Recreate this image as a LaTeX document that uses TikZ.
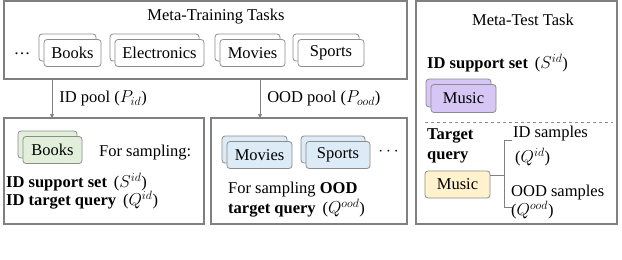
\documentclass[tikz,border=0pt]{standalone}
\usepackage{fontspec}
\setmainfont{Liberation Serif}
\usepackage{amsmath}
\usetikzlibrary{positioning, arrows.meta, shadows}

\definecolor{frame}{HTML}{808080}
\definecolor{cardline}{HTML}{8C8C8C}
\definecolor{bookgreen}{HTML}{E2EFDA}
\definecolor{poolblue}{HTML}{DDEBF7}
\definecolor{testpurple}{HTML}{D6C6F5}
\definecolor{queryyellow}{HTML}{FFF2CC}

\tikzset{
  panel/.style={draw=frame,line width=1.6pt,outer sep=0pt,anchor=north west},
  card/.style={draw=cardline,fill=white,rounded corners=3pt,line width=0.8pt,
               minimum height=27pt,inner xsep=4pt,font=\fontsize{16.5}{19}\selectfont},
  stack/.style={card,fill=#1,
                copy shadow={shadow xshift=-5pt,shadow yshift=5.5pt,
                             draw=cardline,fill=#1,line width=0.8pt}},
  txt/.style={font=\fontsize{16.5}{19}\selectfont,inner sep=0pt},
  pool/.style={-{Triangle[length=4pt,width=4pt]},draw=frame,line width=0.6pt},
}

\begin{document}
\begin{tikzpicture}[x=1pt,y=-1pt]
  \useasboundingbox (0,0) rectangle (622,260);
  % panels
  \node[panel,minimum width=403pt,minimum height=78pt](train) at (4,1){};
  \node[panel,minimum width=200pt,minimum height=106pt](idbox) at (4,118){};
  \node[panel,minimum width=196pt,minimum height=106pt](oodbox) at (211,118){};
  \node[panel,minimum width=201pt,minimum height=223pt](test) at (416,1){};
  % meta-training tasks
  \node[txt](traintitle) at (216,17){Meta-Training Tasks};
  \node[txt](tdots) at (22,54){\dots};
  \node[stack=white,minimum width=57pt](tbooks) at (72.5,53){Books};
  \node[stack=white,minimum width=89pt](telec) at (159.5,53){Electronics};
  \node[stack=white,minimum width=65pt](tmovies) at (252.5,53){Movies};
  \node[stack=white,minimum width=66pt](tsports) at (331,53){Sports};
  % pools
  \coordinate(idx) at (52,98);
  \coordinate(oodx) at (260,98);
  \draw[pool](train.south -| idx)
       --node[txt,right=7pt]{ID pool ($P_{id}$)}(idbox.north -| idx);
  \draw[pool](train.south -| oodx)
       --node[txt,right=7pt]{OOD pool ($P_{ood}$)}(oodbox.north -| oodx);
  % ID pool box
  \node[stack=bookgreen,minimum width=59pt](gbooks) at (52.5,150){Books};
  \node[txt,anchor=west](forsamp) at (99,153){For sampling:};
  \node[txt,anchor=west](idsupp) at (6,182){\textbf{ID support set}\, ($S^{id}$)};
  \node[txt,anchor=west](idquery) at (6,200){\textbf{ID target query}\, ($Q^{id}$)};
  % OOD pool box
  \node[stack=poolblue,minimum width=65pt](bmovies) at (259.5,155){Movies};
  \node[stack=poolblue,minimum width=64pt](bsports) at (338,155){Sports};
  \node[txt](bdots) at (390,152){$\cdots$};
  \node[txt,anchor=west](oodsamp) at (228,190){For sampling \textbf{OOD}};
  \node[txt,anchor=west](oodquery) at (228,208){\textbf{target query}\, ($Q^{ood}$)};
  % meta-test task
  \node[txt](testtitle) at (523,20){Meta-Test Task};
  \node[txt,anchor=west](testsupp) at (427,63){\textbf{ID support set}\, ($S^{id}$)};
  \node[stack=testpurple,minimum width=65pt,minimum height=28pt](pmusic) at (463.5,98.5){Music};
  \draw[cardline,dashed,line width=0.6pt](425,122)--(613,122);
  \node[txt,anchor=west](target) at (427,136){\textbf{Target}};
  \node[txt,anchor=west](query) at (427,157){\textbf{query}};
  \node[card,fill=queryyellow,minimum width=65pt](ymusic) at (457.5,184.5){Music};
  % bracket
  \coordinate(brtop) at (504,140);
  \coordinate(brbot) at (504,207);
  \draw[frame,line width=0.8pt](ymusic.east |- 0,175)--(brtop |- 0,175);
  \draw[frame,line width=0.8pt]([xshift=8pt]brtop)--(brtop)--(brbot)--([xshift=8pt]brbot);
  \node[txt,anchor=west](idsamp) at (513,134){ID samples};
  \node[txt,anchor=west](idsampq) at (515,157){($Q^{id}$)};
  \node[txt,anchor=west](oodsampl) at (511,193){OOD samples};
  \node[txt,anchor=west](oodsampq) at (511,210){($Q^{ood}$)};
\end{tikzpicture}
\end{document}
